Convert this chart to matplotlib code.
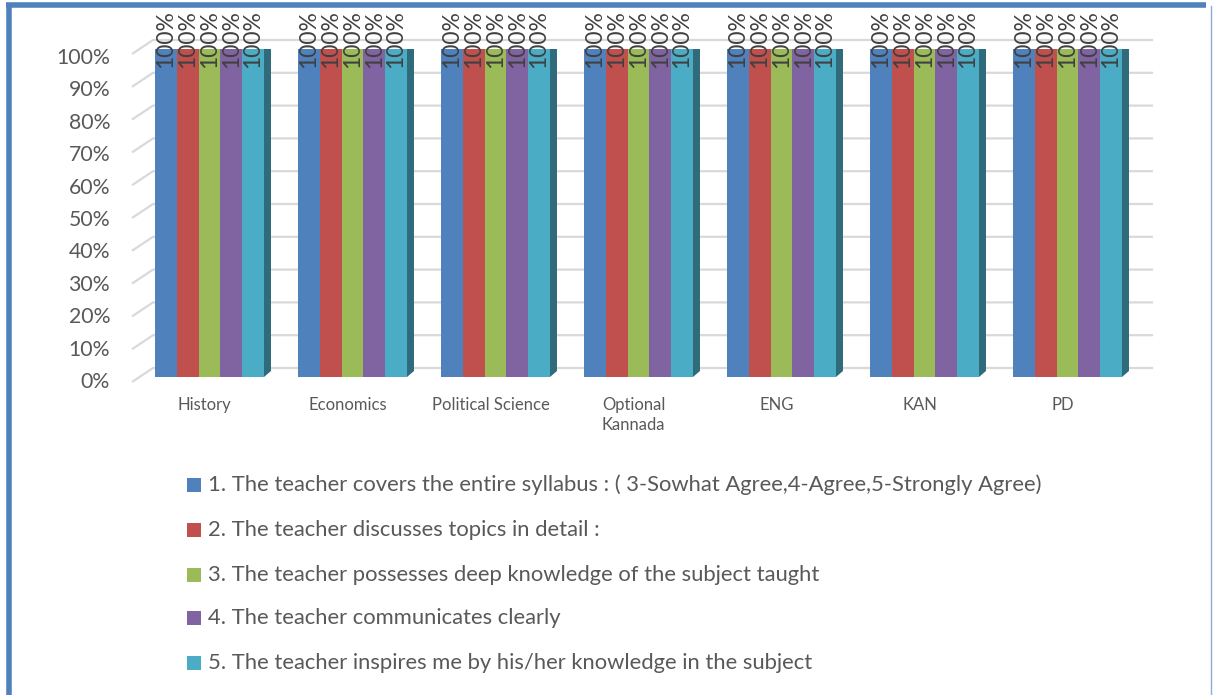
import numpy as np
import matplotlib
matplotlib.use("Agg")
import matplotlib.pyplot as plt
from matplotlib.patches import Polygon, Rectangle
from matplotlib.lines import Line2D
from matplotlib.colors import to_rgb

subjects = ["History", "Economics", "Political Science", "Optional\nKannada", "ENG", "KAN", "PD"]
series_names = [
    "1. The teacher covers the entire syllabus : ( 3-Sowhat Agree,4-Agree,5-Strongly Agree)",
    "2. The teacher discusses topics in detail :",
    "3. The teacher possesses deep knowledge of the subject taught",
    "4. The teacher communicates clearly",
    "5. The teacher inspires me by his/her knowledge in the subject",
]
# percent agreeing, one list per question, one value per subject
q1 = [100, 100, 100, 100, 100, 100, 100]
q2 = [100, 100, 100, 100, 100, 100, 100]
q3 = [100, 100, 100, 100, 100, 100, 100]
q4 = [100, 100, 100, 100, 100, 100, 100]
q5 = [100, 100, 100, 100, 100, 100, 100]
series_values = [q1, q2, q3, q4, q5]
y_ticks = [0, 10, 20, 30, 40, 50, 60, 70, 80, 90, 100]

colors = ["#4F81BD", "#C0504D", "#9BBB59", "#8064A2", "#4BACC6"]
FONT = "Lato"
W, H = 1213, 695


def shade(c, f):
    r, g, b = to_rgb(c)
    if f < 0:
        return (r * (1 + f), g * (1 + f), b * (1 + f))
    return (r + (1 - r) * f, g + (1 - g) * f, b + (1 - b) * f)


fig = plt.figure(figsize=(W / 100, H / 100), dpi=100)
fig.patch.set_facecolor("white")

# axes placed so that bar fronts map onto the reference pixels
left_px, right_px, bot_px, top_px = 132, 1153, 377, 49
ax = fig.add_axes([left_px / W, (H - bot_px) / H, (right_px - left_px) / W, (bot_px - top_px) / H])
sx = 143.0  # px per category
sy = (bot_px - top_px) / 100.0  # px per percent
x0 = (left_px - 209.5) / sx
x1 = (right_px - 209.5) / sx
ax.set_xlim(x0, x1)
ax.set_ylim(0, 100)
ax.axis("off")

# 3d-ish gridlines (front slant + back wall)
for v in y_ticks:
    ax.plot([x0, x0 + 21 / sx, x1], [v - 5 / sy, v + 9 / sy, v + 9 / sy],
            color="#D9D9D9", lw=1.6, zorder=0, clip_on=False, solid_capstyle="butt")
    # tick labels sit on a slightly tighter scale than the bar fronts
    lab_px = 382 - 3.24 * v
    ax.text((110 - 209.5) / sx, (bot_px - lab_px) / sy, f"{v}%", ha="right", va="center",
            fontsize=15.3, color="#595959", family=FONT)

n = len(series_values)
bw = 0.1524
dx, dy = 7 / sx, 6 / sy
xs = np.arange(len(subjects))
for k, vals in enumerate(series_values):
    xc = xs + (k - (n - 1) / 2) * bw
    ax.bar(xc, vals, width=bw, color=colors[k], zorder=4, linewidth=0)
    for xi, v in zip(xc, vals):
        xl, xr = xi - bw / 2, xi + bw / 2
        side = Polygon([(xr, 0), (xr + dx, dy), (xr + dx, v + dy), (xr, v)],
                       closed=True, facecolor=shade(colors[k], -0.38), edgecolor="none", zorder=2)
        top = Polygon([(xl, v), (xr, v), (xr + dx, v + dy), (xl + dx, v + dy)],
                      closed=True, facecolor=shade(colors[k], 0.12), edgecolor="none", zorder=3)
        ax.add_patch(side)
        ax.add_patch(top)
        ax.text(xi, v - 19 / sy, f"{v}%", rotation=90, ha="center", va="bottom",
                fontsize=16.5, color="#404040", family=FONT, zorder=6, clip_on=False)

for i, s in enumerate(subjects):
    ax.text(i - 5 / sx, -20 / sy, s, ha="center", va="top", fontsize=12,
            color="#595959", family=FONT, linespacing=1.3)

# legend
rows = [485, 530, 575, 618, 663]
for k, name in enumerate(series_names):
    yy = rows[k]
    fig.add_artist(Rectangle((187 / W, (H - yy - 7) / H), 14 / W, 14 / H,
                             transform=fig.transFigure, facecolor=colors[k], edgecolor="none"))
    fig.text(208 / W, (H - yy) / H, name, ha="left", va="center", fontsize=15.8,
             color="#595959", family=FONT)

# chart frame
blue = "#4F81BD"
fig.add_artist(Line2D([6 / W, 1206 / W], [(H - 4.5) / H, (H - 4.5) / H], color=blue, lw=4,
                      transform=fig.transFigure, solid_capstyle="butt"))
fig.add_artist(Line2D([9 / W, 9 / W], [0, (H - 2.5) / H], color=blue, lw=4,
                      transform=fig.transFigure, solid_capstyle="butt"))
fig.add_artist(Line2D([1211 / W, 1211 / W], [0, (H - 6) / H], color="#8EAADB", lw=1,
                      transform=fig.transFigure))

fig.savefig("out.png", dpi=100)
